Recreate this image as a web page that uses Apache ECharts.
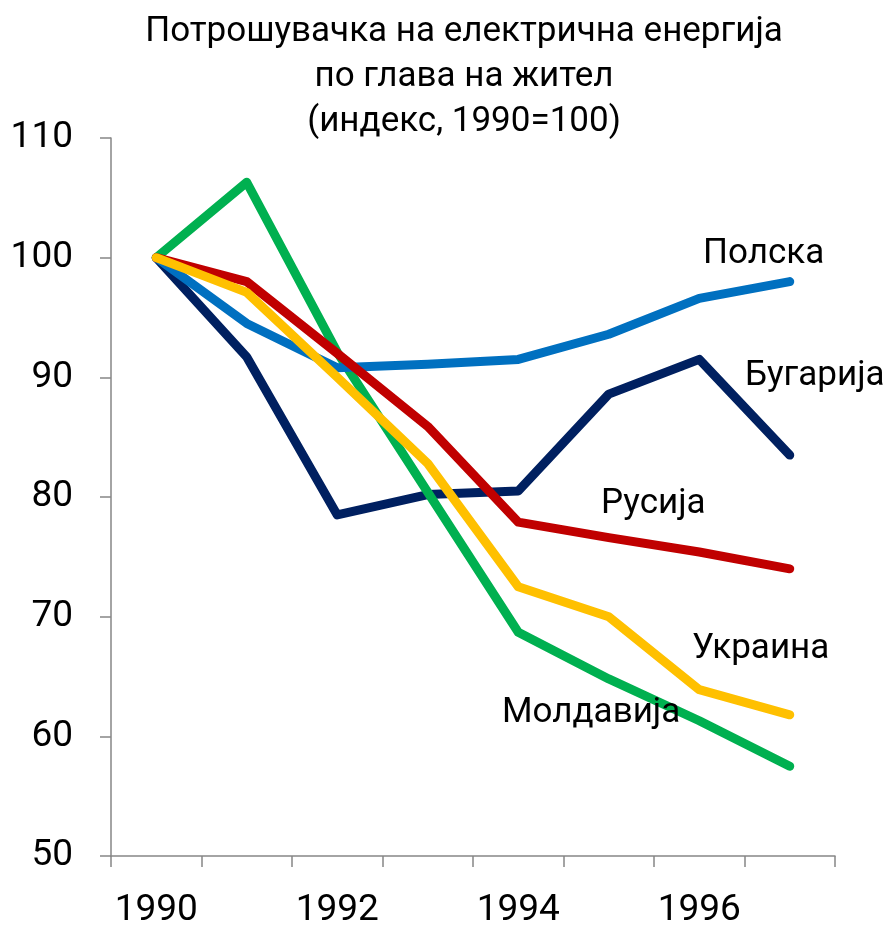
<!DOCTYPE html>
<html>
<head>
<meta charset="utf-8">
<title>Потрошувачка на електрична енергија</title>
<script src="https://cdn.jsdelivr.net/npm/echarts@6/dist/echarts.min.js"></script>
<style>
html,body{margin:0;padding:0;background:#fff;}
#chart{width:891px;height:929px;}
</style>
</head>
<body>
<div id="chart"></div>
<script>
// податоци (индекс, 1990=100)
var years = ['1990','1991','1992','1993','1994','1995','1996','1997'];
var bugarija = [100, 91.7, 78.5, 80.2, 80.5, 88.6, 91.5, 83.5];
var moldavija = [100, 106.3, 92.1, 80.4, 68.7, 64.8, 61.3, 57.5];
var polska = [100, 94.5, 90.8, 91.1, 91.5, 93.6, 96.6, 98.0];
var rusija = [100, 98.0, 92.0, 85.9, 77.9, 76.6, 75.4, 74.0];
var ukraina = [100, 97.1, 90.0, 82.8, 72.5, 70.0, 63.9, 61.8];

var fontName = 'Roboto, "Noto Sans", sans-serif';

function mkSeries(name, data, color) {
    return {
        name: name,
        type: 'line',
        data: data,
        symbol: 'none',
        smooth: false,
        lineStyle: { width: 9, color: color, cap: 'round', join: 'round' },
        itemStyle: { color: color },
        emphasis: { disabled: true }
    };
}

function label(text, x, y) {
    return { type: 'text', left: x, top: y, z: 100,
        style: { text: text, font: '35px ' + fontName, fill: '#000' } };
}

var myChart = echarts.init(document.getElementById('chart'));
var option = {
    animation: false,
    title: {
        text: 'Потрошувачка на електрична енергија\nпо глава на жител\n(индекс, 1990=100)',
        top: 5,
        left: 459,
        textAlign: 'center',
        textStyle: { fontFamily: fontName, fontSize: 35, fontWeight: 'normal', color: '#000', lineHeight: 45 }
    },
    grid: { left: 111, right: 56, top: 138, bottom: 72 },
    xAxis: {
        type: 'category',
        data: years,
        boundaryGap: true,
        axisLine: { lineStyle: { color: '#868686', width: 1.5 } },
        axisTick: { show: true, interval: 0, length: 11, lineStyle: { color: '#868686', width: 1.5 } },
        axisLabel: { interval: 1, margin: 36, fontFamily: fontName, fontSize: 37, color: '#000' },
        splitLine: { show: false }
    },
    yAxis: {
        type: 'value',
        min: 50,
        max: 110,
        interval: 10,
        axisLine: { show: true, lineStyle: { color: '#868686', width: 1.5 } },
        axisTick: { show: true, length: 11, lineStyle: { color: '#868686', width: 1.5 } },
        axisLabel: { margin: 38, fontFamily: fontName, fontSize: 37, color: '#000' },
        splitLine: { show: false }
    },
    series: [
        mkSeries('Бугарија', bugarija, '#002060'),
        mkSeries('Молдавија', moldavija, '#00B050'),
        mkSeries('Полска', polska, '#0070C0'),
        mkSeries('Русија', rusija, '#C00000'),
        mkSeries('Украина', ukraina, '#FFC000')
    ],
    graphic: [
        label('Полска', 703, 237),
        label('Бугарија', 745, 359),
        label('Русија', 601, 487),
        label('Украина', 692, 632),
        label('Молдавија', 502, 696)
    ]
};
myChart.setOption(option);
</script>
</body>
</html>
